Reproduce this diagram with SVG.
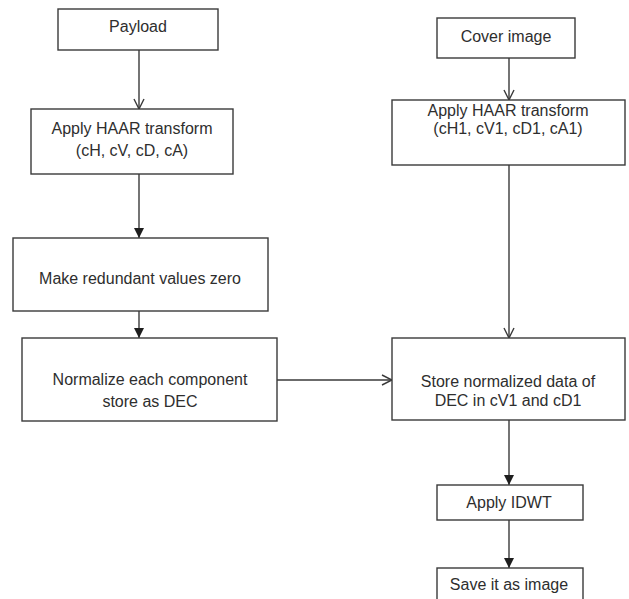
<svg xmlns="http://www.w3.org/2000/svg" width="629" height="599" viewBox="0 0 629 599">
  <style>
    .box { fill: #ffffff; stroke: #3a3a3a; stroke-width: 1.4; }
    .lbl { font-family: "Liberation Sans", Arial, sans-serif; font-size: 16px; fill: #2e2e2e; text-anchor: middle; }
    .wire { stroke: #3a3a3a; stroke-width: 1.4; fill: none; }
    .open { marker-end: url(#chevron); }
    .solid { marker-end: url(#tri); }
  </style>
  <defs>
    <marker id="chevron" viewBox="0 0 12 12" refX="11" refY="6" markerWidth="12" markerHeight="12" markerUnits="userSpaceOnUse" orient="auto">
      <path d="M1,1 L11,6 L1,11" fill="none" stroke="#3a3a3a" stroke-width="1.4"/>
    </marker>
    <marker id="tri" viewBox="0 0 10 10" refX="10" refY="5" markerWidth="10" markerHeight="10" markerUnits="userSpaceOnUse" orient="auto">
      <path d="M0,0 L10,5 L0,10 Z" fill="#1e1e1e"/>
    </marker>
  </defs>

  <rect width="629" height="599" fill="#ffffff"/>

  <g id="connectors">
    <line class="wire open" x1="139" y1="50" x2="139" y2="109"/>
    <line class="wire solid" x1="139" y1="174" x2="139" y2="238"/>
    <line class="wire solid" x1="139" y1="311" x2="139" y2="338"/>
    <line class="wire open" x1="277" y1="380" x2="392" y2="380"/>
    <line class="wire open" x1="509" y1="58" x2="509" y2="100"/>
    <line class="wire open" x1="509" y1="165" x2="509" y2="338"/>
    <line class="wire solid" x1="509" y1="420" x2="509" y2="485"/>
    <line class="wire solid" x1="509" y1="520" x2="509" y2="568"/>
  </g>

  <g id="payload">
    <rect class="box" x="58" y="9" width="160" height="41"/>
    <text class="lbl" x="138" y="32">Payload</text>
  </g>

  <g id="haar-payload">
    <rect class="box" x="31" y="109" width="202" height="65"/>
    <text class="lbl" x="132" y="134">Apply HAAR transform</text>
    <text class="lbl" x="132" y="156">(cH, cV, cD, cA)</text>
  </g>

  <g id="zero-redundant">
    <rect class="box" x="13" y="238" width="255" height="73"/>
    <text class="lbl" x="140" y="284">Make redundant values zero</text>
  </g>

  <g id="normalize">
    <rect class="box" x="22" y="338" width="255" height="83"/>
    <text class="lbl" x="150" y="385">Normalize each component</text>
    <text class="lbl" x="150" y="407">store as DEC</text>
  </g>

  <g id="cover">
    <rect class="box" x="437" y="18" width="138" height="40"/>
    <text class="lbl" x="506" y="42">Cover image</text>
  </g>

  <g id="haar-cover">
    <rect class="box" x="392" y="100" width="233" height="65"/>
    <text class="lbl" x="508" y="116">Apply HAAR transform</text>
    <text class="lbl" x="508" y="134">(cH1, cV1, cD1, cA1)</text>
  </g>

  <g id="store">
    <rect class="box" x="392" y="338" width="233" height="82"/>
    <text class="lbl" x="508" y="387">Store normalized data of</text>
    <text class="lbl" x="508" y="406">DEC in cV1 and cD1</text>
  </g>

  <g id="idwt">
    <rect class="box" x="437" y="485" width="146" height="35"/>
    <text class="lbl" x="509" y="508">Apply IDWT</text>
  </g>

  <g id="save">
    <rect class="box" x="437" y="568" width="146" height="40"/>
    <text class="lbl" x="509" y="590">Save it as image</text>
  </g>
</svg>
